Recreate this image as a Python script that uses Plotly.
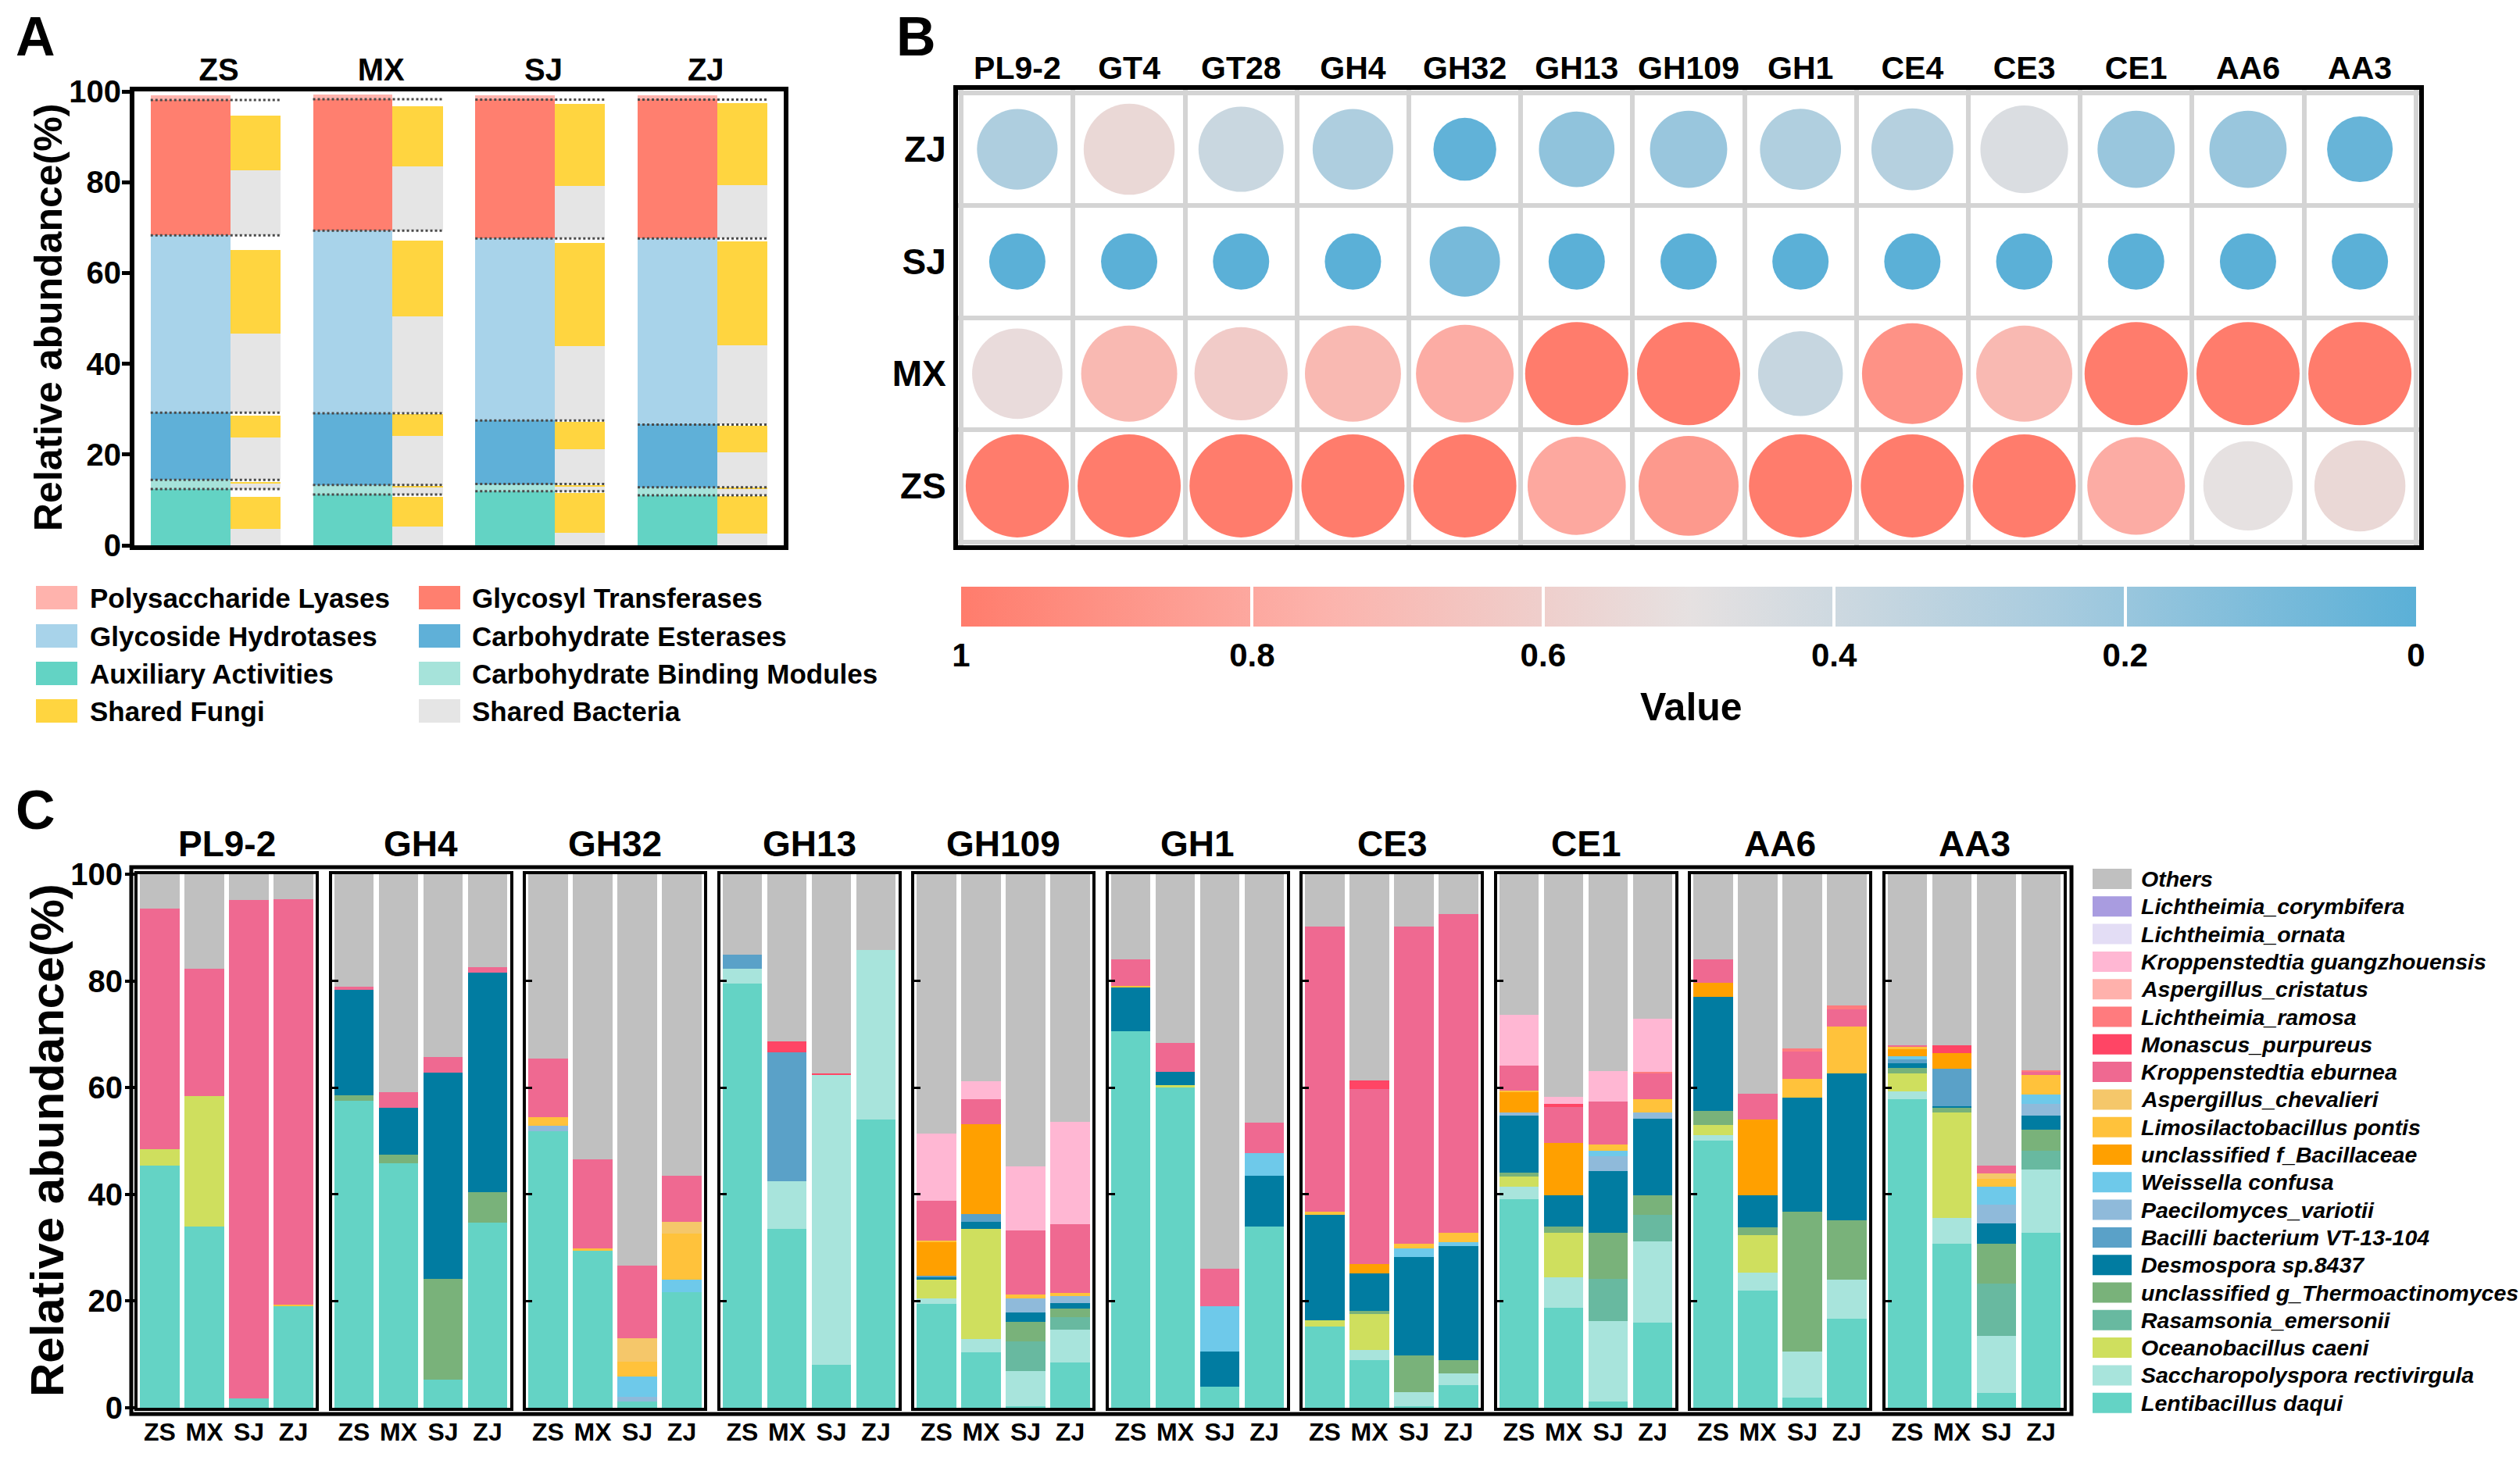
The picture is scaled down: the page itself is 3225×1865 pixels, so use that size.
import math
import plotly.graph_objects as go

W, H = 3225, 1865
FONT = "Liberation Sans, Arial, Helvetica, sans-serif"

# ------------------------------------------------------------------ Panel A data
sites = ["ZS", "MX", "SJ", "ZJ"]
cazy_aa = [12.4, 11.2, 11.9, 11.0]
cazy_cbm = [2.0, 2.1, 1.6, 1.8]
cazy_ce = [14.8, 15.8, 14.0, 13.8]
cazy_gh = [39.1, 40.2, 40.1, 41.0]
cazy_gt = [29.8, 29.0, 30.6, 30.6]
cazy_pl = [1.0, 1.0, 1.0, 1.0]
# shared bacteria / shared fungi inside each CAZy class (same % units)
bact_aa = [3.7, 4.1, 2.75, 2.5]
fungi_aa = [6.9, 6.5, 8.7, 8.3]
bact_cbm = [1.2, 1.6, 1.0, 1.4]
fungi_cbm = [0.4, 0.3, 0.4, 0.4]
bact_ce = [9.4, 10.8, 7.6, 7.7]
fungi_ce = [4.8, 4.8, 6.1, 5.8]
bact_gh = [17.5, 21.3, 16.4, 17.4]
fungi_gh = [18.4, 16.8, 22.7, 23.0]
bact_gt = [14.3, 14.1, 11.6, 11.8]
fungi_gt = [12.1, 13.4, 18.0, 18.0]

# ------------------------------------------------------------------ Panel B data
b_cols = ["PL9-2", "GT4", "GT28", "GH4", "GH32", "GH13", "GH109", "GH1", "CE4", "CE3", "CE1", "AA6", "AA3"]
b_rows = ["ZS", "MX", "SJ", "ZJ"]
val_ZS = [1.0, 1.0, 1.0, 1.0, 1.0, 0.80, 0.87, 1.0, 1.0, 1.0, 0.78, 0.50, 0.55]
val_MX = [0.53, 0.72, 0.62, 0.72, 0.78, 1.0, 1.0, 0.37, 0.90, 0.72, 1.0, 1.0, 1.0]
val_SJ = [0.0, 0.0, 0.0, 0.0, 0.09, 0.0, 0.0, 0.0, 0.0, 0.0, 0.0, 0.0, 0.0]
val_ZJ = [0.27, 0.55, 0.38, 0.27, 0.02, 0.17, 0.20, 0.28, 0.30, 0.45, 0.20, 0.20, 0.04]

# ------------------------------------------------------------------ Panel C data
species = [
    ("Lentibacillus daqui", "#64D3C5"),
    ("Saccharopolyspora rectivirgula", "#A8E4DC"),
    ("Oceanobacillus caeni", "#CFDF5E"),
    ("Rasamsonia_emersonii", "#68B9A0"),
    ("unclassified g_Thermoactinomyces", "#79B27A"),
    ("Desmospora sp.8437", "#017CA1"),
    ("Bacilli bacterium VT-13-104", "#5AA1C8"),
    ("Paecilomyces_variotii", "#8FBADA"),
    ("Weissella confusa", "#6EC9EA"),
    ("unclassified f_Bacillaceae", "#FFA000"),
    ("Limosilactobacillus pontis", "#FFC23B"),
    ("Aspergillus_chevalieri", "#F5C76A"),
    ("Kroppenstedtia eburnea", "#EF6991"),
    ("Monascus_purpureus", "#FF4565"),
    ("Lichtheimia_ramosa", "#FF7B7E"),
    ("Aspergillus_cristatus", "#FFB1AC"),
    ("Kroppenstedtia guangzhouensis", "#FFB7D3"),
    ("Lichtheimia_ornata", "#E3DDF5"),
    ("Lichtheimia_corymbifera", "#A99CE0"),
    ("Others", "#C0C0C0"),
]

PL9_2 = {
    "Lentibacillus daqui": [45.4, 33.9, 1.7, 19.0],
    "Oceanobacillus caeni": [3.1, 24.5, 0, 0],
    "Limosilactobacillus pontis": [0, 0, 0, 0.3],
    "Kroppenstedtia eburnea": [45.0, 23.9, 93.4, 76.0],
    "Others": [6.5, 17.7, 4.9, 4.7],
}
GH4 = {
    "Lentibacillus daqui": [57.5, 45.8, 5.3, 34.7],
    "unclassified g_Thermoactinomyces": [1.0, 1.6, 18.9, 5.7],
    "Desmospora sp.8437": [19.8, 8.8, 38.6, 41.2],
    "Kroppenstedtia eburnea": [0.6, 2.9, 2.9, 1.0],
    "Others": [21.1, 40.9, 34.3, 17.4],
}
GH32 = {
    "Lentibacillus daqui": [51.8, 29.5, 1.2, 21.6],
    "Paecilomyces_variotii": [1.0, 0, 0.8, 0],
    "Weissella confusa": [0, 0, 3.9, 2.4],
    "Limosilactobacillus pontis": [1.6, 0.4, 2.7, 8.6],
    "Aspergillus_chevalieri": [0, 0, 4.5, 2.3],
    "Kroppenstedtia eburnea": [11.0, 16.7, 13.6, 8.6],
    "Others": [34.6, 53.4, 73.3, 56.5],
}
GH13 = {
    "Lentibacillus daqui": [79.5, 33.6, 8.1, 54.0],
    "Saccharopolyspora rectivirgula": [2.8, 8.9, 54.2, 31.8],
    "Bacilli bacterium VT-13-104": [2.6, 24.1, 0, 0],
    "Monascus_purpureus": [0, 2.0, 0.4, 0],
    "Others": [15.1, 31.4, 37.3, 14.2],
}
GH109 = {
    "Lentibacillus daqui": [19.5, 10.4, 0.3, 8.5],
    "Saccharopolyspora rectivirgula": [1.0, 2.5, 6.6, 6.2],
    "Oceanobacillus caeni": [3.5, 20.7, 0, 0],
    "Rasamsonia_emersonii": [0, 0, 5.5, 2.3],
    "unclassified g_Thermoactinomyces": [0, 0, 3.7, 1.6],
    "Desmospora sp.8437": [0.4, 1.2, 1.7, 1.0],
    "Bacilli bacterium VT-13-104": [0.4, 1.5, 0, 0],
    "Paecilomyces_variotii": [0, 0, 2.7, 1.3],
    "unclassified f_Bacillaceae": [6.3, 16.9, 0, 0],
    "Limosilactobacillus pontis": [0.3, 0, 0.7, 0.6],
    "Kroppenstedtia eburnea": [7.4, 4.7, 12.0, 12.9],
    "Kroppenstedtia guangzhouensis": [12.6, 3.3, 12.0, 19.2],
    "Others": [48.6, 38.8, 54.8, 46.4],
}
GH1 = {
    "Lentibacillus daqui": [70.5, 60.0, 4.0, 34.0],
    "Oceanobacillus caeni": [0, 0.5, 0, 0],
    "Desmospora sp.8437": [8.2, 2.4, 6.6, 9.5],
    "Weissella confusa": [0, 0, 8.4, 4.3],
    "Limosilactobacillus pontis": [0.4, 0, 0, 0],
    "Kroppenstedtia eburnea": [5.0, 5.5, 7.1, 5.6],
    "Others": [15.9, 31.6, 73.9, 46.6],
}
CE3 = {
    "Lentibacillus daqui": [15.3, 9.0, 0.3, 4.2],
    "Saccharopolyspora rectivirgula": [0, 1.8, 2.7, 2.3],
    "Oceanobacillus caeni": [1.1, 6.8, 0, 0],
    "unclassified g_Thermoactinomyces": [0, 0.6, 6.8, 2.4],
    "Desmospora sp.8437": [19.7, 7.0, 18.5, 21.4],
    "Weissella confusa": [0, 0, 1.6, 0.8],
    "unclassified f_Bacillaceae": [0, 1.7, 0, 0],
    "Limosilactobacillus pontis": [0.6, 0, 0.8, 1.7],
    "Kroppenstedtia eburnea": [53.5, 32.9, 59.5, 59.7],
    "Monascus_purpureus": [0, 1.6, 0, 0],
    "Others": [9.8, 38.6, 9.8, 7.5],
}
CE1 = {
    "Lentibacillus daqui": [39.1, 18.8, 1.1, 16.0],
    "Saccharopolyspora rectivirgula": [2.3, 5.6, 15.2, 15.2],
    "Oceanobacillus caeni": [1.9, 8.4, 0, 0],
    "Rasamsonia_emersonii": [0, 0, 7.9, 4.9],
    "unclassified g_Thermoactinomyces": [0.7, 1.2, 8.6, 3.7],
    "Desmospora sp.8437": [10.8, 5.8, 11.6, 14.4],
    "Paecilomyces_variotii": [0.5, 0, 2.8, 1.2],
    "Weissella confusa": [0, 0, 0.9, 0],
    "unclassified f_Bacillaceae": [3.8, 9.8, 0, 0],
    "Limosilactobacillus pontis": [0.4, 0, 1.2, 2.5],
    "Kroppenstedtia eburnea": [4.6, 6.7, 8.1, 4.7],
    "Monascus_purpureus": [0, 0.6, 0, 0],
    "Lichtheimia_ramosa": [0, 0, 0, 0.3],
    "Kroppenstedtia guangzhouensis": [9.5, 1.4, 5.7, 10.0],
    "Others": [26.4, 41.7, 36.9, 27.1],
}
AA6 = {
    "Lentibacillus daqui": [50.1, 21.9, 1.9, 16.7],
    "Saccharopolyspora rectivirgula": [1.0, 3.5, 8.7, 7.3],
    "Oceanobacillus caeni": [1.9, 7.0, 0, 0],
    "unclassified g_Thermoactinomyces": [2.6, 1.4, 26.1, 11.2],
    "Desmospora sp.8437": [21.4, 6.0, 21.4, 27.5],
    "unclassified f_Bacillaceae": [2.7, 14.2, 0, 0],
    "Limosilactobacillus pontis": [0, 0, 3.5, 8.8],
    "Kroppenstedtia eburnea": [4.4, 4.9, 5.2, 3.1],
    "Lichtheimia_ramosa": [0, 0, 0.6, 0.8],
    "Others": [15.9, 41.1, 32.6, 24.6],
}
AA3 = {
    "Lentibacillus daqui": [57.9, 30.8, 2.8, 32.8],
    "Saccharopolyspora rectivirgula": [1.4, 4.8, 10.6, 11.9],
    "Oceanobacillus caeni": [3.3, 19.7, 0, 0],
    "Rasamsonia_emersonii": [0, 0, 9.9, 3.5],
    "unclassified g_Thermoactinomyces": [1.1, 0.9, 7.4, 3.9],
    "Desmospora sp.8437": [0.9, 0.3, 3.9, 2.7],
    "Bacilli bacterium VT-13-104": [0.7, 7.0, 0, 0],
    "Paecilomyces_variotii": [0, 0, 3.5, 2.2],
    "Weissella confusa": [0.6, 0, 3.3, 1.7],
    "unclassified f_Bacillaceae": [1.3, 3.0, 0, 0],
    "Limosilactobacillus pontis": [0.4, 0, 1.5, 3.7],
    "Aspergillus_chevalieri": [0, 0, 1.0, 0],
    "Kroppenstedtia eburnea": [0.4, 0, 1.5, 0.5],
    "Monascus_purpureus": [0, 1.4, 0, 0],
    "Lichtheimia_ramosa": [0, 0, 0, 0.3],
    "Others": [32.0, 32.1, 54.6, 36.8],
}
facets = [("PL9-2", PL9_2), ("GH4", GH4), ("GH32", GH32), ("GH13", GH13), ("GH109", GH109),
          ("GH1", GH1), ("CE3", CE3), ("CE1", CE1), ("AA6", AA6), ("AA3", AA3)]

# ------------------------------------------------------------------ helpers
def fx(px):
    return px / W


def fy(py):
    return 1 - py / H


BOLD = dict(family=FONT, color="black", weight="bold")


def bold(size):
    return dict(BOLD, size=size)


fig = go.Figure()
shapes = []
annotations = []

# ------------------------------------------------------------------ Panel A
GRAY_B = "#E5E5E5"
YEL_F = "#FFD540"
a_classes = [
    ("Auxiliary Activities", cazy_aa, bact_aa, fungi_aa, "#63D3C4"),
    ("Carbohydrate Binding Modules", cazy_cbm, bact_cbm, fungi_cbm, "#A6E3DA"),
    ("Carbohydrate Esterases", cazy_ce, bact_ce, fungi_ce, "#5FB0D8"),
    ("Glycoside Hydrotases", cazy_gh, bact_gh, fungi_gh, "#A8D3EA"),
    ("Glycosyl Transferases", cazy_gt, bact_gt, fungi_gt, "#FF7F6F"),
    ("Polysaccharide Lyases", cazy_pl, None, None, "#FFB3AD"),
]
xa_big = [i + 0.345 for i in range(len(sites))]
xa_small = [i + 0.745 for i in range(len(sites))]
cum = [0.0] * len(sites)
dot_x, dot_y = [], []
for k, (name, vals, bact, fungi, col) in enumerate(a_classes):
    fig.add_trace(go.Bar(x=xa_big, y=vals, width=0.49, name=name, showlegend=False,
                         marker=dict(color=col, line=dict(width=0)), xaxis="x", yaxis="y"))
    if bact is not None:
        fig.add_trace(go.Bar(x=xa_small, y=bact, base=list(cum), width=0.31, showlegend=False,
                             name="Shared Bacteria", marker=dict(color=GRAY_B, line=dict(width=0)),
                             xaxis="x", yaxis="y"))
        fig.add_trace(go.Bar(x=xa_small, y=fungi, base=[c + b for c, b in zip(cum, bact)], width=0.31,
                             showlegend=False, name="Shared Fungi",
                             marker=dict(color=YEL_F, line=dict(width=0)), xaxis="x", yaxis="y"))
    cum = [c + v for c, v in zip(cum, vals)]
    if k < len(a_classes) - 1:
        for i in range(len(sites)):
            dot_x += [i + 0.10, i + 0.90, None]
            dot_y += [cum[i], cum[i], None]
fig.add_trace(go.Scatter(x=dot_x, y=dot_y, mode="lines", showlegend=False, hoverinfo="skip",
                         line=dict(color="#4a4a4a", width=3, dash="dot"), xaxis="x", yaxis="y"))

# legend A (manual, two columns)
legA_col1 = [("Polysaccharide Lyases", "#FFB3AD"), ("Glycoside Hydrotases", "#A8D3EA"),
             ("Auxiliary Activities", "#63D3C4"), ("Shared Fungi", YEL_F)]
legA_col2 = [("Glycosyl Transferases", "#FF7F6F"), ("Carbohydrate Esterases", "#5FB0D8"),
             ("Carbohydrate Binding Modules", "#A6E3DA"), ("Shared Bacteria", GRAY_B)]
rowsA = [765, 814, 862, 910]
for col_items, sx0, sx1, tx in [(legA_col1, 46, 99, 113), (legA_col2, 536, 589, 602)]:
    for (lab, colr), yc in zip(col_items, rowsA):
        shapes.append(dict(type="rect", xref="paper", yref="paper", x0=fx(sx0), x1=fx(sx1),
                           y0=fy(yc + 15), y1=fy(yc - 15), fillcolor=colr, line=dict(width=0)))
        annotations.append(dict(text=lab, xref="paper", yref="paper", x=fx(tx), y=fy(yc),
                                xanchor="left", yanchor="middle", showarrow=False, font=bold(35)))

# y titles (rotated text)
annotations.append(dict(text="Relative abundance(%)", xref="paper", yref="paper", x=fx(62), y=fy(407),
                        xanchor="center", yanchor="middle", textangle=-90, showarrow=False,
                        font=bold(50)))
annotations.append(dict(text="Relative abundance(%)", xref="paper", yref="paper", x=fx(60), y=fy(1460),
                        xanchor="center", yanchor="middle", textangle=-90, showarrow=False,
                        font=bold(60)))

# ------------------------------------------------------------------ Panel B
bx, by, bc, bs = [], [], [], []
for r, vals in enumerate([val_ZS, val_MX, val_SJ, val_ZJ]):
    for c, v in enumerate(vals):
        bx.append(c)
        by.append(r)
        bc.append(1 - v)
        bs.append(72 + 60 * math.sqrt(v))
fig.add_trace(go.Scatter(x=bx, y=by, mode="markers", showlegend=False,
                         marker=dict(size=bs, sizemode="diameter", color=bc, coloraxis="coloraxis",
                                     line=dict(width=0), opacity=1),
                         xaxis="x2", yaxis="y2"))
annotations.append(dict(text="Value", xref="paper", yref="paper", x=fx(2164), y=fy(905),
                        xanchor="center", yanchor="middle", showarrow=False, font=bold(50)))

# ------------------------------------------------------------------ Panel C
for k, (title, data) in enumerate(facets):
    n = k + 3
    for sp, colr in species:
        if sp in data:
            fig.add_trace(go.Bar(x=sites, y=data[sp], name=sp, showlegend=False,
                                 marker=dict(color=colr, line=dict(width=0)),
                                 xaxis=f"x{n}", yaxis=f"y{n}"))

# legend C (manual)
for i, (sp, colr) in enumerate(reversed(species)):
    yc = 1125 + 35.3 * i
    shapes.append(dict(type="rect", xref="paper", yref="paper", x0=fx(2678), x1=fx(2728),
                       y0=fy(yc + 13), y1=fy(yc - 13), fillcolor=colr, line=dict(width=0)))
    annotations.append(dict(text=sp, xref="paper", yref="paper", x=fx(2738), y=fy(yc),
                            xanchor="left", yanchor="middle", showarrow=False,
                            font=dict(BOLD, size=28.5, style="italic")))

# outer frame around all facets
shapes.append(dict(type="rect", xref="paper", yref="paper", x0=fx(168), x1=fx(2651),
                   y0=fy(1810), y1=fy(1110), line=dict(color="black", width=5), layer="above"))

# panel letters
for lab, x, y in [("A", 45, 47), ("B", 1172, 47), ("C", 45, 1037)]:
    annotations.append(dict(text=lab, xref="paper", yref="paper", x=fx(x), y=fy(y), xanchor="center",
                            yanchor="middle", showarrow=False, font=bold(70)))

# ------------------------------------------------------------------ layout
layout = dict(
    width=W, height=H, margin=dict(l=0, r=0, t=0, b=0, autoexpand=False),
    paper_bgcolor="white", plot_bgcolor="white",
    barmode="stack", bargap=0.12, showlegend=False,
    font=dict(family=FONT, color="black"),
    shapes=shapes, annotations=annotations,
)

# Panel A axes
layout["xaxis"] = dict(domain=[fx(172), fx(1003)], range=[0, 4], anchor="y", side="top",
                       tickvals=[i + 0.52 for i in range(len(sites))], ticktext=sites, ticks="",
                       tickfont=bold(40), showline=True, mirror=True, linewidth=6, linecolor="black",
                       showgrid=False, zeroline=False, ticklabelstandoff=-8)
layout["yaxis"] = dict(domain=[fy(698), fy(117)], range=[0, 100], anchor="x",
                       tickvals=[0, 20, 40, 60, 80, 100], ticks="outside", ticklen=10, tickwidth=5,
                       tickcolor="black", tickfont=bold(40), showline=True, mirror=True, linewidth=6,
                       linecolor="black", showgrid=False, zeroline=False, ticklabelstandoff=-7)

# Panel B axes
layout["xaxis2"] = dict(domain=[fx(1226), fx(3096)], range=[-0.53, len(b_cols) - 0.47], anchor="y2",
                        side="top", tickvals=list(range(len(b_cols))), ticktext=b_cols, ticks="",
                        tickfont=bold(41), showline=True, mirror=True, linewidth=6, linecolor="black",
                        showgrid=False, zeroline=False, ticklabelstandoff=-8,
                        minor=dict(tickvals=[c - 0.5 for c in range(len(b_cols) + 1)], showgrid=True,
                                   gridcolor="#D4D4D4", gridwidth=6, ticks=""))
layout["yaxis2"] = dict(domain=[fy(698), fy(115)], range=[-0.53, len(b_rows) - 0.47], anchor="x2",
                        tickvals=list(range(len(b_rows))), ticktext=b_rows, ticks="",
                        tickfont=bold(46), showline=True, mirror=True, linewidth=6, linecolor="black",
                        showgrid=False, zeroline=False,
                        minor=dict(tickvals=[r - 0.5 for r in range(len(b_rows) + 1)], showgrid=True,
                                   gridcolor="#D4D4D4", gridwidth=6, ticks=""))
layout["coloraxis"] = dict(
    cmin=0, cmax=1,
    colorscale=[[0, "#FF7C6C"], [0.25, "#FCB3AC"], [0.5, "#E6E1E1"], [0.75, "#A9CCDF"], [1, "#5BB0D7"]],
    colorbar=dict(orientation="h", x=fx(2161), xanchor="center", y=fy(751), yanchor="top",
                  len=1862 / W, lenmode="fraction", thickness=51, thicknessmode="pixels",
                  xpad=0, ypad=0, outlinewidth=0,
                  tickvals=[0, 0.2, 0.4, 0.6, 0.8, 1], ticktext=["1", "0.8", "0.6", "0.4", "0.2", "0"],
                  ticks="inside", ticklen=51, tickwidth=4, tickcolor="white", tickfont=bold(42)),
)

# Panel C axes
for k, (title, data) in enumerate(facets):
    n = k + 3
    x0 = 176 + 248.5 * k
    ya = dict(domain=[fy(1802), fy(1119)], range=[0, 100], anchor=f"x{n}",
              tickvals=[0, 20, 40, 60, 80, 100], showline=True, mirror=True, linewidth=4,
              linecolor="black", showgrid=False, zeroline=False)
    if k == 0:
        ya.update(ticks="outside", ticklen=12, tickwidth=4, tickcolor="black", tickfont=bold(40),
                  showticklabels=True, ticklabelstandoff=-5)
    else:
        ya.update(ticks="inside", ticklen=8, tickwidth=3, tickcolor="black", showticklabels=False)
    layout[f"yaxis{n}"] = ya
    layout[f"xaxis{n}"] = dict(domain=[fx(x0), fx(x0 + 228)], anchor=f"y{n}", type="category",
                               categoryorder="array", categoryarray=sites, range=[-0.5, 3.5],
                               ticks="", tickfont=bold(32), showline=True, mirror=True, linewidth=4,
                               linecolor="black", showgrid=False, zeroline=False)
    annotations.append(dict(text=title, xref=f"x{n} domain", yref="paper", x=0.5, y=fy(1080),
                            xanchor="center", yanchor="middle", showarrow=False, font=bold(46)))

fig.update_layout(**layout)
fig.write_html("out.html", post_script="document.body.style.margin='0';",
               config={"displayModeBar": False})
